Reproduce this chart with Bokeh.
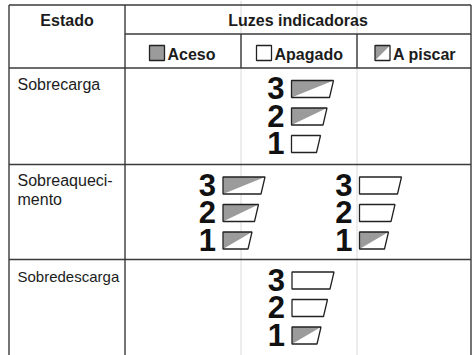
from bokeh.plotting import figure
from bokeh.models import Range1d, ColumnDataSource
from bokeh.core.properties import value
from bokeh.embed import file_html
from bokeh.resources import INLINE

# ---------------- data ----------------
header_state = "Estado"
header_lights = "Luzes indicadoras"
legend_labels = ["Aceso", "Apagado", "A piscar"]
legend_kinds = ["on", "off", "blink"]
states = ["Sobrecarga", "Sobreaqueci-\nmento", "Sobredescarga"]
levels = ["3", "2", "1"]
sobrecarga = [["blink", "blink", "off"]]
sobreaquecimento = [["blink", "blink", "blink"], ["off", "off", "blink"]]
sobredescarga = [["off", "off", "blink"]]
patterns = [sobrecarga, sobreaquecimento, sobredescarga]

# ---------------- layout ----------------
COL = [8.5, 124.5, 240.5, 356.5, 470.5]
ROW = [4.5, 33.5, 67.5, 164.0, 259.0, 362.0]
GROUP_LEFT = [[291.0], [222.5, 359.0], [291.5]]
BAR_W = [42.0, 35.5, 29.0]
BAR_H = 17.0
SLANT = 4.0
BAR_STEP = 27.5
BAR_OFF = 21.0
ICON_LEFT = [149.0, 256.0, 374.5]
ICON_SIZE = 15.0
ICON_TOP = 45.0
STATE_SIZE = [16, 16, 15]
FONT = value("Liberation Sans")
DIGIT_SIZE = 31
DIGIT_GAP = 7
INK = "#1c1c1c"
LINE = "#3a3a3a"
GRAY = "#9b9b9b"
BASE_FIX = 0.38  # em shift to land the alphabetic baseline where intended
LINE_H = 1.15

W, H = 474, 355
p = figure(width=W, height=H, output_backend="svg", toolbar_location=None,
           x_range=Range1d(0, W), y_range=Range1d(H, 0),
           min_border=0, outline_line_color=None)
p.axis.visible = False
p.grid.visible = False
p.background_fill_color = "white"
p.border_fill_color = "white"


def bl(y, size, text=""):
    extra = text.count("\n") * LINE_H * size / 2
    return y - BASE_FIX * size + extra


# faint column continuations
p.segment(x0=[COL[2], COL[3]], y0=[0, 0], x1=[COL[2], COL[3]], y1=[ROW[-1], ROW[-1]],
          line_color="#dadada", line_width=1)

# table lines
x0, y0, x1, y1 = [], [], [], []
for c in (COL[0], COL[1], COL[4]):
    x0.append(c); y0.append(ROW[0]); x1.append(c); y1.append(ROW[-1])
for c in (COL[2], COL[3]):
    x0.append(c); y0.append(ROW[1]); x1.append(c); y1.append(ROW[2])
x0.append(COL[0]); y0.append(ROW[0]); x1.append(COL[4]); y1.append(ROW[0])
x0.append(COL[1]); y0.append(ROW[1]); x1.append(COL[4]); y1.append(ROW[1])
for r in ROW[2:5]:
    x0.append(COL[0]); y0.append(r); x1.append(COL[4]); y1.append(r)
p.segment(x0=x0, y0=y0, x1=x1, y1=y1, line_color=LINE, line_width=1.4)

# headers
p.text(x=[(COL[0] + COL[1]) / 2, (COL[1] + COL[4]) / 2], y=[bl(26.5, 16)] * 2,
       text=[header_state, header_lights], text_font=FONT, text_font_size="16px",
       text_font_style="bold", text_align="center", text_baseline="alphabetic",
       text_color=INK)

# legend icons + labels
on_xs, on_ys, off_xs, off_ys, tri_xs, tri_ys = [], [], [], [], [], []
for left, kind in zip(ICON_LEFT, legend_kinds):
    sq_x = [left, left + ICON_SIZE, left + ICON_SIZE, left]
    sq_y = [ICON_TOP, ICON_TOP, ICON_TOP + ICON_SIZE, ICON_TOP + ICON_SIZE]
    if kind == "on":
        on_xs.append(sq_x); on_ys.append(sq_y)
    else:
        off_xs.append(sq_x); off_ys.append(sq_y)
        if kind == "blink":
            tri_xs.append([left, left + ICON_SIZE, left])
            tri_ys.append([ICON_TOP + ICON_SIZE, ICON_TOP, ICON_TOP])
p.text(x=[l + ICON_SIZE + 3 for l in ICON_LEFT], y=[bl(60.0, 16)] * 3, text=legend_labels,
       text_font=FONT, text_font_size="16px", text_font_style="bold",
       text_align="left", text_baseline="alphabetic", text_color=INK)

# states
state_src = ColumnDataSource(dict(
    x=[17] * 3,
    y=[bl(r + 22.5, sz, s) for r, s, sz in zip(ROW[2:5], states, STATE_SIZE)],
    text=states,
    size=[f"{sz}px" for sz in STATE_SIZE],
))
p.text(x="x", y="y", text="text", text_font_size="size", source=state_src,
       text_font=FONT, text_align="left", text_baseline="alphabetic",
       text_color=INK, text_line_height=LINE_H)

# indicator bars
bar_xs, bar_ys = [], []
dig_x, dig_y, dig_t = [], [], []
for si, groups in enumerate(patterns):
    top0 = ROW[2 + si] + BAR_OFF
    for gi, grp in enumerate(groups):
        left = GROUP_LEFT[si][gi]
        for li, (lvl, kind) in enumerate(zip(levels, grp)):
            cy = top0 + li * BAR_STEP
            t, b = cy - BAR_H / 2, cy + BAR_H / 2
            w = BAR_W[li]
            bar_xs.append([left, left + w, left + w - SLANT, left])
            bar_ys.append([t, t, b, b])
            if kind == "blink":
                tri_xs.append([left, left + w, left])
                tri_ys.append([b, t, t])
            elif kind == "on":
                on_xs.append([left, left + w, left + w - SLANT, left])
                on_ys.append([t, t, b, b])
            dig_x.append(left - DIGIT_GAP)
            dig_y.append(bl(cy + 0.355 * DIGIT_SIZE, DIGIT_SIZE))
            dig_t.append(lvl)

p.patches(xs=off_xs + bar_xs, ys=off_ys + bar_ys, fill_color="white",
          line_color=None)
p.patches(xs=on_xs, ys=on_ys, fill_color=GRAY, line_color=None)
p.patches(xs=tri_xs, ys=tri_ys, fill_color=GRAY, line_color=None)
p.patches(xs=off_xs + on_xs[:1] + bar_xs, ys=off_ys + on_ys[:1] + bar_ys,
          fill_color=None, line_color="#222222", line_width=1.3)

p.text(x=dig_x, y=dig_y, text=dig_t, text_font=FONT,
       text_font_size=f"{DIGIT_SIZE}px",
       text_font_style="bold", text_align="right", text_baseline="alphabetic",
       text_color="#111111")

open("out.html", "w").write(file_html(p, INLINE))
